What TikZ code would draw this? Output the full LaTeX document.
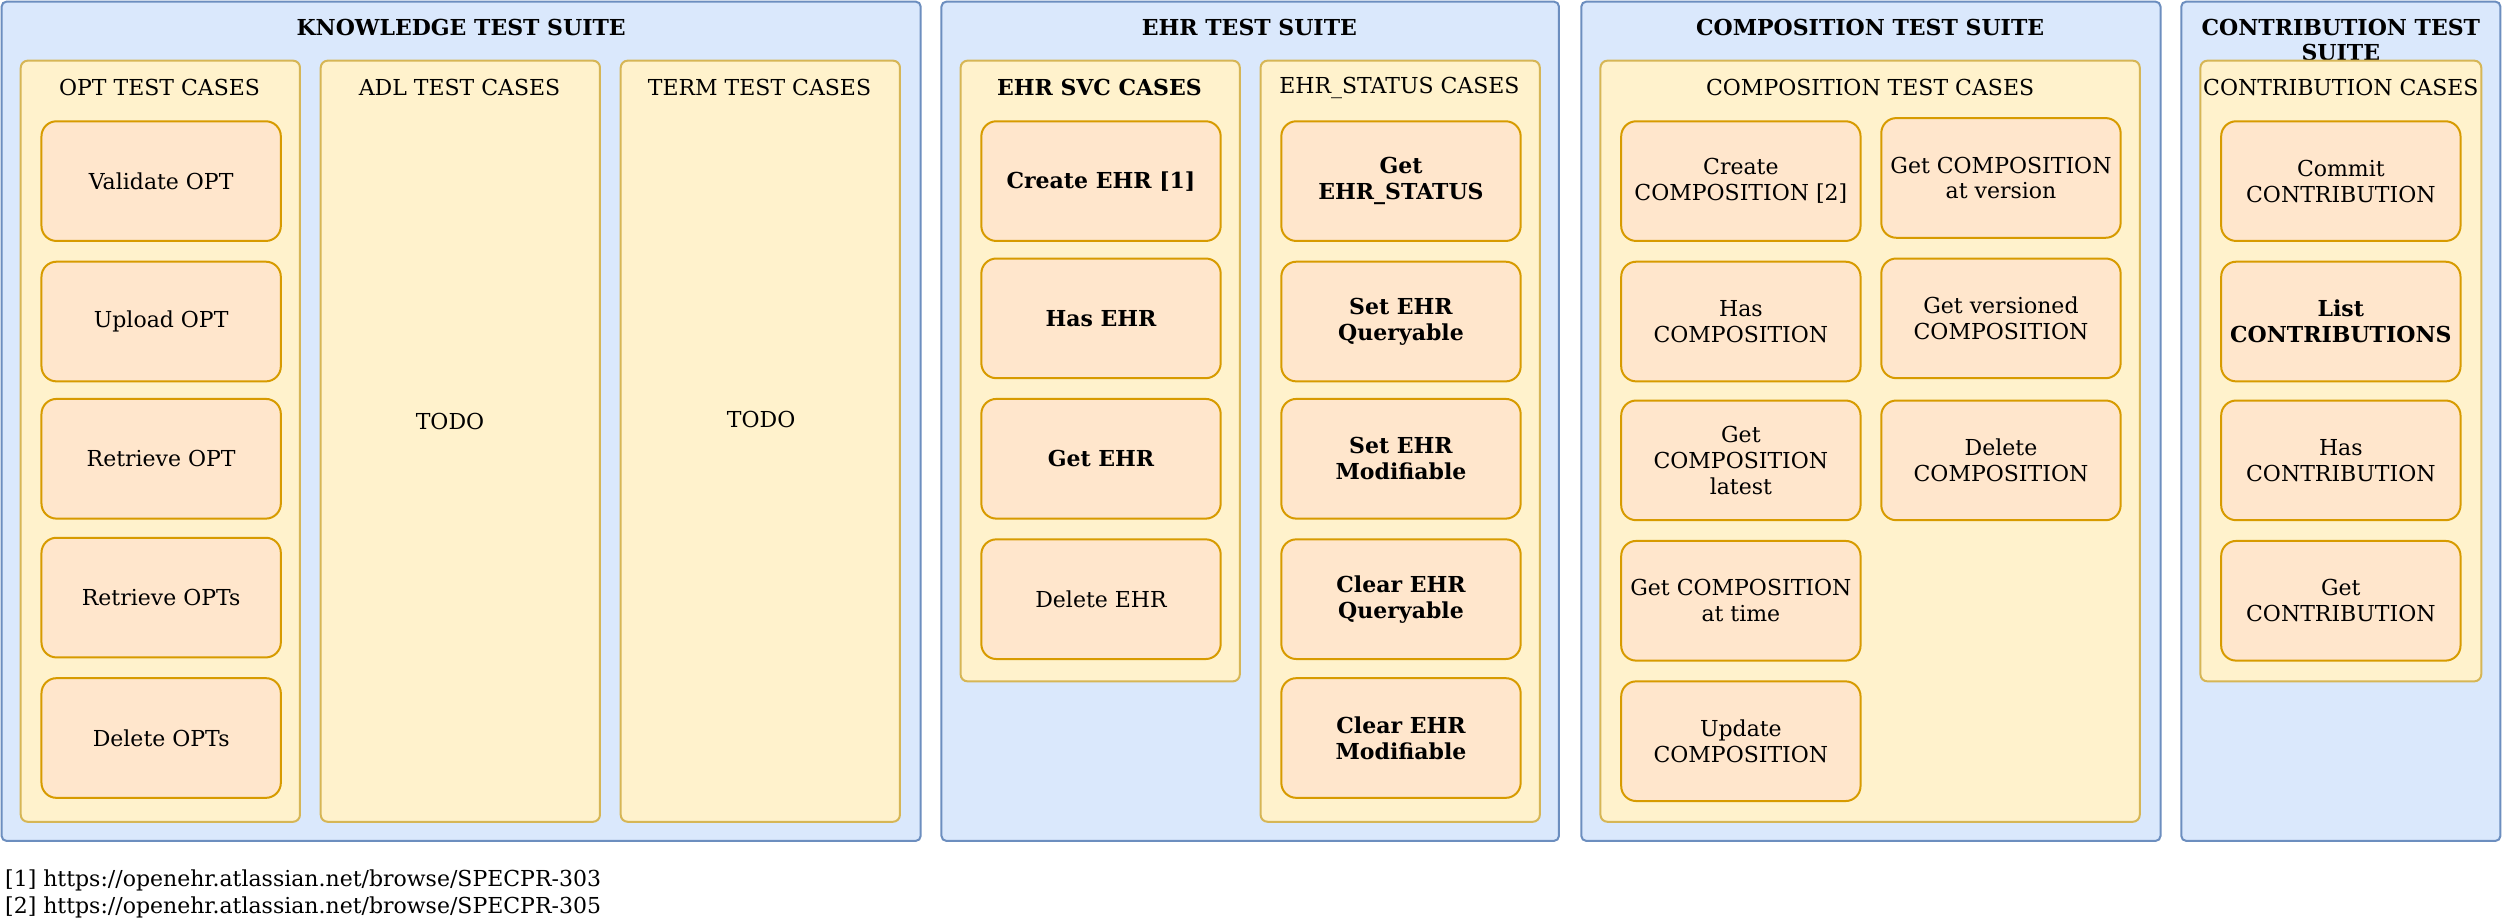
\documentclass[tikz,border=0pt]{standalone}
\usepackage{fontspec}
\setmainfont{DejaVu Serif}
\definecolor{suiteF}{HTML}{DAE8FC}
\definecolor{suiteB}{HTML}{6C8EBF}
\definecolor{grpF}{HTML}{FFF2CC}
\definecolor{grpB}{HTML}{D6B656}
\definecolor{caseF}{HTML}{FFE6CC}
\definecolor{caseB}{HTML}{D79B00}
\newcommand\U{0.79785pt}
\newcommand\fsz{\fontsize{11}{12.9}\selectfont}
\tikzset{
  suite/.style={draw=suiteB, fill=suiteF, line width=1pt, rounded corners=2.5pt, inner sep=0pt},
  grp/.style={draw=grpB, fill=grpF, line width=1pt, rounded corners=3.5pt, inner sep=0pt},
  tcase/.style={draw=caseB, fill=caseF, line width=1pt, rounded corners=7.5pt, inner sep=0pt, align=center, font=\fsz},
  lbl/.style={font=\fsz, inner sep=0pt, align=center},
  blbl/.style={font=\fsz\bfseries, inner sep=0pt, align=center},
}
% style, name, x1, y1, x2, y2, text
\newcommand\bx[7]{\node[#1, minimum width={(#5-#3)*\U}, minimum height={(#6-#4)*\U}] (#2) at ({(#3+#5)/2},{(#4+#6)/2}) {#7};}
\begin{document}
\begin{tikzpicture}[x=\U, y=-\U]
\useasboundingbox (0,0) rectangle (1568,578);
% ---------------- KNOWLEDGE
\bx{suite}{ks}{1}{1}{577}{527}{}
\node[blbl] (kst) at (289,17) {KNOWLEDGE TEST SUITE};
\bx{grp}{opt}{13}{38}{188}{515}{}
\node[lbl] (optt) at (100,55) {OPT TEST CASES};
\bx{tcase}{o1}{26}{76}{176}{151}{Validate OPT}
\bx{tcase}{o2}{26}{164}{176}{239}{Upload OPT}
\bx{tcase}{o3}{26}{250}{176}{325}{Retrieve OPT}
\bx{tcase}{o4}{26}{337}{176}{412}{Retrieve OPTs}
\bx{tcase}{o5}{26}{425}{176}{500}{Delete OPTs}
\bx{grp}{adl}{201}{38}{376}{515}{}
\node[lbl] (adlt) at (288,55) {ADL TEST CASES};
\node[lbl] (adltodo) at (282,264) {TODO};
\bx{grp}{term}{389}{38}{564}{515}{}
\node[lbl] (termt) at (476,55) {TERM TEST CASES};
\node[lbl] (termtodo) at (477,263) {TODO};
% ---------------- EHR
\bx{suite}{es}{590}{1}{977}{527}{}
\node[blbl] (est) at (783,17) {EHR TEST SUITE};
\bx{grp}{svc}{602}{38}{777}{427}{}
\node[blbl] (svct) at (689,55) {EHR SVC CASES};
\bx{tcase}{e1}{615}{76}{765}{151}{\bfseries Create EHR [1]}
\bx{tcase}{e2}{615}{162}{765}{237}{\bfseries Has EHR}
\bx{tcase}{e3}{615}{250}{765}{325}{\bfseries Get EHR}
\bx{tcase}{e4}{615}{338}{765}{413}{Delete EHR}
\bx{grp}{sts}{790}{38}{965}{515}{}
\node[lbl] (stst) at (877,55) {EHR\_STATUS CASES};
\bx{tcase}{s1}{803}{76}{953}{151}{\bfseries Get\\\bfseries EHR\_STATUS}
\bx{tcase}{s2}{803}{164}{953}{239}{\bfseries Set EHR\\\bfseries Queryable}
\bx{tcase}{s3}{803}{250}{953}{325}{\bfseries Set EHR\\\bfseries Modifiable}
\bx{tcase}{s4}{803}{338}{953}{413}{\bfseries Clear EHR\\\bfseries Queryable}
\bx{tcase}{s5}{803}{425}{953}{500}{\bfseries Clear EHR\\\bfseries Modifiable}
% ---------------- COMPOSITION
\bx{suite}{cs}{991}{1}{1354}{527}{}
\node[blbl] (cst) at (1172,17) {COMPOSITION TEST SUITE};
\bx{grp}{comp}{1003}{38}{1341}{515}{}
\node[lbl] (compt) at (1172,55) {COMPOSITION TEST CASES};
\bx{tcase}{c1}{1016}{76}{1166}{151}{Create\\COMPOSITION [2]}
\bx{tcase}{c2}{1016}{164}{1166}{239}{Has\\COMPOSITION}
\bx{tcase}{c3}{1016}{251}{1166}{326}{Get\\COMPOSITION\\latest}
\bx{tcase}{c4}{1016}{339}{1166}{414}{Get COMPOSITION\\at time}
\bx{tcase}{c5}{1016}{427}{1166}{502}{Update\\COMPOSITION}
\bx{tcase}{c6}{1179}{74}{1329}{149}{Get COMPOSITION\\at version}
\bx{tcase}{c7}{1179}{162}{1329}{237}{Get versioned\\COMPOSITION}
\bx{tcase}{c8}{1179}{251}{1329}{326}{Delete\\COMPOSITION}
% ---------------- CONTRIBUTION
\bx{suite}{ts}{1367}{1}{1567}{527}{}
\node[blbl] (tst) at (1467,25) {CONTRIBUTION TEST\\SUITE};
\bx{grp}{contr}{1379}{38}{1555}{427}{}
\node[lbl] (contrt) at (1467,55) {CONTRIBUTION CASES};
\bx{tcase}{t1}{1392}{76}{1542}{151}{Commit\\CONTRIBUTION}
\bx{tcase}{t2}{1392}{164}{1542}{239}{\bfseries List\\\bfseries CONTRIBUTIONS}
\bx{tcase}{t3}{1392}{251}{1542}{326}{Has\\CONTRIBUTION}
\bx{tcase}{t4}{1392}{339}{1542}{414}{Get\\CONTRIBUTION}
% ---------------- footnotes
\node[lbl, anchor=west, align=left, font=\fontsize{11}{13.6}\selectfont] (fn) at (3,560) {[1] https://openehr.atlassian.net/browse/SPECPR-303\\{}[2] https://openehr.atlassian.net/browse/SPECPR-305};
\end{tikzpicture}
\end{document}
